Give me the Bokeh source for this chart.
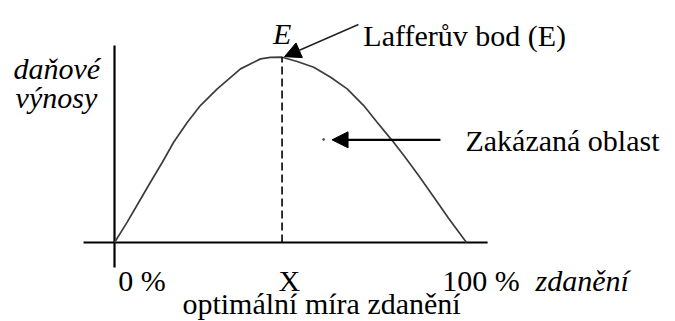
from bokeh.plotting import figure
from bokeh.models import Range1d, Label, Arrow, NormalHead
from bokeh.embed import file_html
from bokeh.resources import INLINE

# Laffer curve: tax rate (%) vs. tax revenue (peak = 100)
tax_rate = [0, 3.6, 6.9, 10.2, 13.6, 16.8, 20.7, 24.4, 29.2, 35.8, 41.5, 44.3,
            47.6, 51.9, 56.6, 61.4, 66.1, 70.8, 74.6, 78.9, 82.2, 86.4, 90.7,
            95.0, 100]
revenue = [0, 11.0, 21.7, 32.5, 43.3, 54.1, 64.9, 73.9, 82.9, 93.7, 99.1, 99.9,
           100, 97.7, 94.6, 89.2, 82.9, 73.9, 64.9, 55.0, 47.0, 36.2, 24.5,
           12.8, 0]
tick_labels = ["0 %", "X", "100 %"]
y_title = ["daňové", "výnosy"]
x_title = "zdanění"
x_subtitle = "optimální míra zdanění"
peak_label = "E"
peak_note = "Lafferův bod (E)"
zone_note = "Zakázaná oblast"

peak_i = revenue.index(max(revenue))
peak_x, peak_y = tax_rate[peak_i], revenue[peak_i]

FONT = "Liberation Serif"
FS = "30px"

p = figure(width=675, height=321,
           x_range=Range1d(-32.39, 159.38), y_range=Range1d(-42.63, 130.60),
           x_axis_type=None, y_axis_type=None,
           output_backend="svg", toolbar_location=None,
           min_border=0, min_border_left=0, min_border_right=0,
           min_border_top=0, min_border_bottom=0)
p.grid.visible = False
p.outline_line_color = None
p.background_fill_color = "white"
p.border_fill_color = "white"

# drawn axes
p.segment(x0=[-8.8], y0=[0], x1=[106.0], y1=[0], line_color="black", line_width=2.2)
p.segment(x0=[0], y0=[-13.5], x1=[0], y1=[106.3], line_color="black", line_width=2.2)

# curve
p.line(tax_rate, revenue, line_color="#3c3c3c", line_width=1.7)

# dashed drop line at optimum
p.segment(x0=[peak_x], y0=[0], x1=[peak_x], y1=[peak_y],
          line_color="black", line_width=1.6, line_dash="8 4")

# arrow to Laffer point
p.add_layout(Arrow(x_start=69.3, y_start=117.6, x_end=peak_x + 0.7, y_end=peak_y + 0.3,
                   line_color="#222222", line_width=1.6,
                   end=NormalHead(size=16, fill_color="black", line_color="black")))

# arrow for forbidden area
p.add_layout(Arrow(x_start=92.6, y_start=55.4, x_end=61.8, y_end=55.4,
                   line_color="black", line_width=2.2,
                   end=NormalHead(size=16, fill_color="black", line_color="black")))
p.scatter([59.4], [55.6], size=2, color="#555555")

def lab(x, y, t, italic=False, align="left", size=FS):
    p.add_layout(Label(x=x, y=y, text=t, text_font=FONT, text_font_size=size,
                       text_font_style="italic" if italic else "normal",
                       text_align=align, text_baseline="alphabetic",
                       text_color="black"))

lab(peak_x, peak_y + 12.8, peak_label, italic=True, align="center")
lab(70.7, 111.7, peak_note)
lab(99.7, 55.0, zone_note)
lab(-28.7, 93.9, y_title[0], italic=True)
lab(-28.1, 78.3, y_title[1], italic=True)
lab(tax_rate[0] + 7.8, -20.5, tick_labels[0], align="center")
lab(peak_x + 2.1, -20.5, tick_labels[1], align="center")
lab(tax_rate[-1] + 4.1, -20.5, tick_labels[2], align="center")
lab(119.6, -20.5, x_title, italic=True)
lab(19.3, -33.0, x_subtitle)

open("out.html", "w").write(file_html(p, INLINE))
